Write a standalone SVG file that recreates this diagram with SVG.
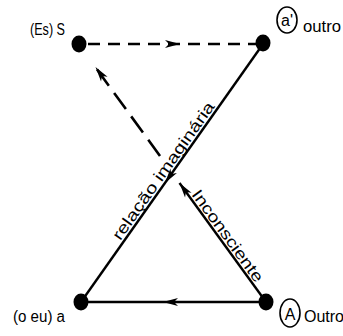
<svg xmlns="http://www.w3.org/2000/svg" xmlns:xlink="http://www.w3.org/1999/xlink" width="343" height="336" viewBox="0 0 343 336">
<style>
.ln{stroke:#000;stroke-width:2.4;fill:none}
.ds{stroke:#000;stroke-width:2.6;fill:none}
.dot{fill:#000}
.lbl{font-family:"Liberation Sans",Arial,sans-serif;font-size:16px;fill:#000}
.ring{fill:none;stroke:#000;stroke-width:1.6}
</style>
<defs>
<path id="ah" d="M0,0 L-15,-4 L-11,0 L-15,4 Z" fill="#000"/>
</defs>
<rect width="343" height="336" fill="#fff"/>
<g id="connectors">
<path class="ds" d="M88,44 L256,44" stroke-dasharray="12 8"/>
<path class="ln" d="M263,44 L81,302"/>
<path class="ln" d="M266,302 L81,302"/>
<path class="ln" d="M266,302 L179.5,183"/>
<path class="ds" d="M160,156 L96,68" stroke-dasharray="20 9"/>
<use xlink:href="#ah" transform="translate(180,44)"/>
<use xlink:href="#ah" transform="translate(165,183) rotate(125.2)"/>
<use xlink:href="#ah" transform="translate(163,302) rotate(180)"/>
<use xlink:href="#ah" transform="translate(179.5,183) rotate(-125.9)"/>
<use xlink:href="#ah" transform="translate(95.5,67) rotate(-125.9)"/>
<text class="lbl" transform="translate(120.2,241.3) rotate(-54.8)" textLength="165" lengthAdjust="spacingAndGlyphs">relação imaginária</text>
<text class="lbl" transform="translate(191,194.5) rotate(54.06)" textLength="110" lengthAdjust="spacingAndGlyphs">Inconsciente</text>
</g>
<g id="S">
<ellipse class="dot" cx="79" cy="44" rx="7.5" ry="8.5"/>
<text class="lbl" x="30" y="35" font-size="17" textLength="35" lengthAdjust="spacingAndGlyphs">(Es) S</text>
</g>
<g id="outro">
<ellipse class="dot" cx="263" cy="43" rx="7.5" ry="8.5"/>
<ellipse class="ring" cx="287" cy="20" rx="10" ry="13"/>
<text class="lbl" x="287" y="26" text-anchor="middle" font-size="16">a'</text>
<text class="lbl" x="303" y="32" font-size="17" textLength="38" lengthAdjust="spacingAndGlyphs">outro</text>
</g>
<g id="a">
<ellipse class="dot" cx="81" cy="302" rx="7.5" ry="8.5"/>
<text class="lbl" x="13" y="322" font-size="17" textLength="52" lengthAdjust="spacingAndGlyphs">(o eu) a</text>
</g>
<g id="A">
<ellipse class="dot" cx="266" cy="302" rx="7.5" ry="8.5"/>
<ellipse class="ring" cx="290" cy="313" rx="10" ry="14"/>
<text class="lbl" x="290" y="320" text-anchor="middle" font-size="18">A</text>
<text class="lbl" x="304" y="322" font-size="17" textLength="40" lengthAdjust="spacingAndGlyphs">Outro</text>
</g>
</svg>
